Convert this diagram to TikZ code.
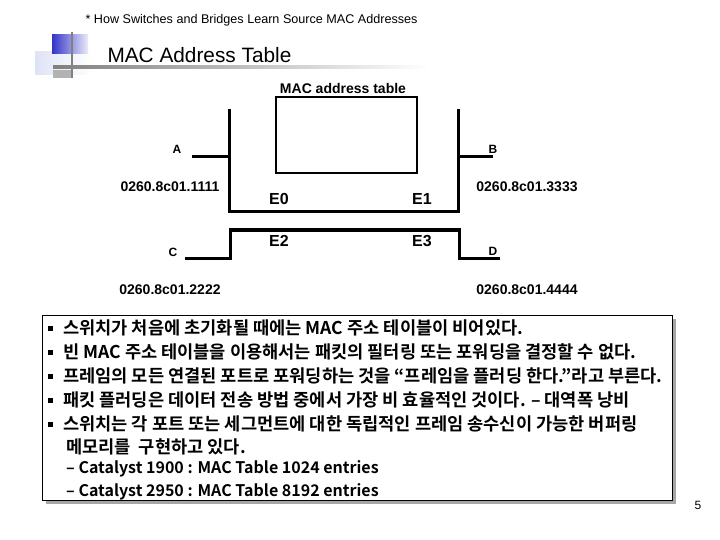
\documentclass[tikz,border=0pt]{standalone}
\usepackage{fontspec}
\setmainfont{Liberation Sans}
\newfontfamily\kor[BoldFont={Noto Sans CJK KR Bold}]{Noto Sans CJK KR}
\definecolor{slideblue}{RGB}{52,52,200}
\definecolor{paleblue}{RGB}{222,226,246}
\tikzset{
  wire/.style={line width=3pt},
  port/.style={font=\bfseries\fontsize{16}{16}\selectfont},
  addr/.style={font=\bfseries\fontsize{14}{14}\selectfont},
  host/.style={font=\bfseries\fontsize{12}{12}\selectfont},
  item/.style={anchor=west, inner sep=0pt, font=\kor\bfseries\fontsize{17.6}{17.6}\selectfont},
  subitem/.style={item, font=\kor\bfseries\fontsize{16}{16}\selectfont},
}
\begin{document}
\begin{tikzpicture}[x=1pt, y=-1pt]
    \useasboundingbox (0,0) rectangle (720,540);

    % Title decoration
    \shade[left color=paleblue, right color=white] (35,52) rectangle (92,75);
    \shade[left color=slideblue, right color=slideblue!10] (52,35) rectangle (88,54);
    \fill[gray!60] (53,70) rectangle (72,78);
    \draw[gray, line width=2pt] (72,32) -- (72,78);
    \shade[left color=gray, right color=white] (53,66) rectangle (430,68.5);

    % Titles
    \node[anchor=west, font=\fontsize{12.6}{12.6}\selectfont] (sub) at (82,20) {* How Switches and Bridges Learn Source MAC Addresses};
    \node[anchor=west, font=\fontsize{20.8}{20.8}\selectfont] (title) at (104,55) {MAC Address Table};

    % Switch with MAC address table
    \node[font=\bfseries\fontsize{14}{14}\selectfont] (tbltitle) at (343,88) {MAC address table};
    \draw[line width=2pt] (276,97) rectangle (417,173);

    % Upper segment: A and B
    \draw[wire] (229,109) -- (229,212) -- (458,212) -- (458,109);
    \draw[wire] (192,157) -- (229,157);
    \draw[wire] (458,157) -- (493,157);
    \node[host] (A) at (177,149) {A};
    \node[host] (B) at (493,149) {B};

    % Lower segment: C and D
    \draw[wire] (185,258) -- (230,258) -- (230,230) -- (459,230) -- (459,258) -- (500,258);
    \node[host] (C) at (173,252) {C};
    \node[host] (D) at (493,251) {D};

    % Ports
    \node[port] (E0) at (279,199) {E0};
    \node[port] (E1) at (422,199) {E1};
    \node[port] (E2) at (279,241) {E2};
    \node[port] (E3) at (422,241) {E3};

    % Addresses
    \node[addr] (addrA) at (170,187) {0260.8c01.1111};
    \node[addr] (addrB) at (527,187) {0260.8c01.3333};
    \node[addr] (addrC) at (170,290) {0260.8c01.2222};
    \node[addr] (addrD) at (527,290) {0260.8c01.4444};

    % Text box with shadow
    \fill[gray!70] (46,319) rectangle (676,504);
    \draw[fill=white, line width=1pt] (42,315) rectangle (672,500);

    % Bullets
    \foreach \y in {328,352,376,400,424}
        \fill (48,\y-2.5) rectangle (53,\y+2.5);
    \node[item] (l1) at (63,328) {스위치가 처음에 초기화될 때에는 MAC 주소 테이블이 비어있다.};
    \node[item] (l2) at (63,352) {빈 MAC 주소 테이블을 이용해서는 패킷의 필터링 또는 포워딩을 결정할 수 없다.};
    \node[item] (l3) at (63,376) {프레임의 모든 연결된 포트로 포워딩하는 것을 “프레임을 플러딩 한다.”라고 부른다.};
    \node[item] (l4) at (63,400) {패킷 플러딩은 데이터 전송 방법 중에서 가장 비 효율적인 것이다. – 대역폭 낭비};
    \node[item] (l5) at (63,424) {스위치는 각 포트 또는 세그먼트에 대한 독립적인 프레임 송수신이 가능한 버퍼링};
    \node[item] (l6) at (66,447) {메모리를 \ 구현하고 있다.};
    \node[subitem] (l7) at (66,469) {– Catalyst 1900 : MAC Table 1024 entries};
    \node[subitem] (l8) at (66,492) {– Catalyst 2950 : MAC Table 8192 entries};

    % Page number
    \node[font=\fontsize{12}{12}\selectfont] (page) at (698,505) {5};

\end{tikzpicture}
\end{document}
